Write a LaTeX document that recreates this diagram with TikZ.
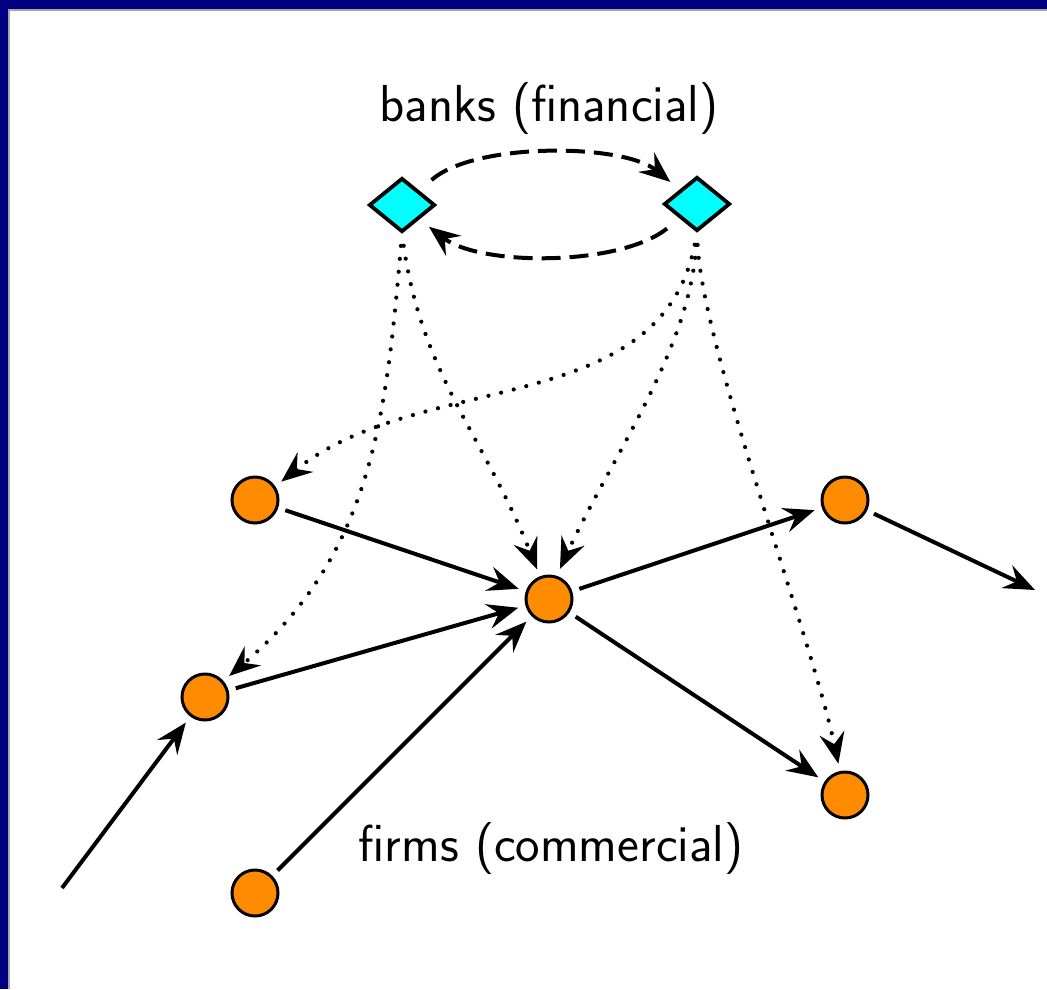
\documentclass[tikz,border=0pt]{standalone}
\usetikzlibrary{arrows.meta,shapes.geometric}
\definecolor{framenavy}{RGB}{0,0,128}
\definecolor{firmorange}{RGB}{255,140,0}
\definecolor{bankcyan}{RGB}{0,255,255}
\begin{document}
\begin{tikzpicture}[x=1pt,y=-1pt,
  firm/.style={circle, draw=black, fill=firmorange, line width=3pt,
    minimum size=46pt, inner sep=0pt, outer sep=9pt},
  bank/.style={diamond, draw=black, fill=bankcyan, line width=3.8pt,
    minimum width=66pt, minimum height=54pt, inner sep=0pt},
  flow/.style={line width=4pt, -{Stealth[length=31pt,width=25pt,inset=11pt]}},
  credit/.style={flow, line width=4.2pt, dash pattern=on 0pt off 13pt, line cap=round, shorten <=12pt},
  loan/.style={flow, dash pattern=on 19pt off 9pt, shorten <=16pt, shorten >=12pt},
  caption/.style={anchor=base, inner sep=0pt, font=\sffamily\fontsize{52}{62}\selectfont}]
\useasboundingbox (0,0) rectangle (1047,989);
% frame
\fill[framenavy] (0,0) rectangle (1047,989);
\fill[gray!70] (7.5,9) rectangle (1047,989);
\fill[white] (9.5,10.5) rectangle (1047,989);

% labels
\node[caption] (banks) at (549,121) {banks (financial)};
\node[caption] (firms) at (551,861) {firms (commercial)};

% banks
\node[bank] (b1) at (402,205) {};
\node[bank] (b2) at (697,204) {};

% firms
\node[firm] (f1) at (255,500) {};
\node[firm] (f2) at (205,697) {};
\node[firm] (c)  at (549,599) {};
\node[firm] (d)  at (845,500) {};
\node[firm] (e)  at (845,795) {};
\node[firm] (g)  at (255,893) {};
\coordinate (src) at (62,888);
\coordinate (snk) at (1035,590);

% interbank lending
\draw[loan] (b1.north east) .. controls +(56,-49) and +(-56,-46) .. (b2.north west);
\draw[loan] (b2.south west) .. controls +(-60,48) and +(61,47) .. (b1.south east);

% bank credit to firms
\draw[credit] (b1.south) .. controls +(20,141) and +(-52,-131) .. (c.112);
\draw[credit] (b1.south) .. controls +(-16,184) and +(143,-122) .. (f2.41);
\draw[credit] (b2.south) .. controls +(-37,187) and +(139,-112) .. (f1.35);
\draw[credit] (b2.south) .. controls +(-7,117) and +(50,-109) .. (c.70);
\draw[credit] (b2.south) .. controls +(6,117) and +(-26,-124) .. (e.102);

% trade between firms
\draw[flow] (f1) -- (c);
\draw[flow] (f2) -- (c);
\draw[flow] (g) -- (c);
\draw[flow] (c) -- (d);
\draw[flow] (c) -- (e);
\draw[flow] (d) -- (snk);
\draw[flow] (src) -- (f2);
\end{tikzpicture}
\end{document}
